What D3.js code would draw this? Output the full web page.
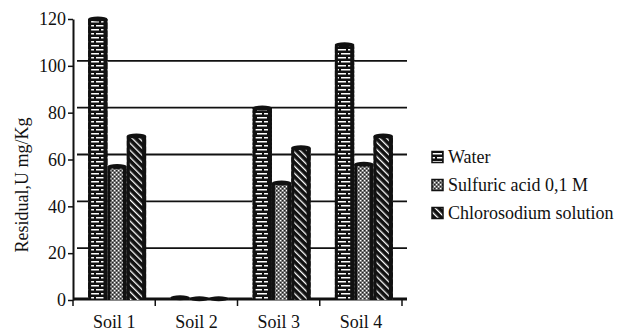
<!DOCTYPE html>
<html><head><meta charset="utf-8">
<script src="https://cdn.jsdelivr.net/npm/d3@7"></script>
<style>body{margin:0;background:#fff}svg{display:block}text{font-family:"Liberation Serif","Times New Roman",Times,"DejaVu Serif",serif;fill:#111}</style>
</head><body>
<svg id="c" width="622" height="330"></svg>
<script>
const soils = ["Soil 1","Soil 2","Soil 3","Soil 4"];
const series = ["Water","Sulfuric acid 0,1 M","Chlorosodium solution"];
const water = [120, 1, 82, 109];
const sulfuric = [57, 0.5, 50, 58];
const chloro = [70, 0.5, 65, 70];
const yTicks = [0,20,40,60,80,100,120];
const values = [water, sulfuric, chloro];

const svg = d3.select("#c");
const defs = svg.append("defs");
const ink = "#111";
const serif = '"Liberation Serif","Times New Roman",Times,serif';

// patterns
const p1 = defs.append("pattern").attr("id","pw").attr("patternUnits","userSpaceOnUse").attr("width",12).attr("height",8);
p1.append("rect").attr("width",12).attr("height",8).attr("fill",ink);
p1.append("rect").attr("x",0).attr("y",1).attr("width",10).attr("height",1.5).attr("fill","#fff");
p1.append("rect").attr("x",5).attr("y",5).attr("width",7).attr("height",1.5).attr("fill","#fff");
p1.append("rect").attr("x",0).attr("y",5).attr("width",3).attr("height",1.5).attr("fill","#fff");
const p2 = defs.append("pattern").attr("id","ps").attr("patternUnits","userSpaceOnUse").attr("width",4).attr("height",4);
p2.append("rect").attr("width",4).attr("height",4).attr("fill","#777");
p2.append("rect").attr("x",0).attr("y",0).attr("width",1.2).attr("height",1.2).attr("fill","#fff");
p2.append("rect").attr("x",2).attr("y",2).attr("width",1.2).attr("height",1.2).attr("fill","#fff");
p2.append("rect").attr("x",2).attr("y",0).attr("width",1.2).attr("height",1.2).attr("fill","#222");
p2.append("rect").attr("x",0).attr("y",2).attr("width",1.2).attr("height",1.2).attr("fill","#222");
const p3 = defs.append("pattern").attr("id","pc").attr("patternUnits","userSpaceOnUse").attr("width",5).attr("height",5).attr("patternTransform","rotate(-45)");
p3.append("rect").attr("width",5).attr("height",5).attr("fill",ink);
p3.append("rect").attr("x",0).attr("y",0).attr("width",1.3).attr("height",5).attr("fill","#fff");
const fills = ["url(#pw)","url(#ps)","url(#pc)"];

const x0 = d3.scaleBand().domain(soils).range([73,402]);
const groupW = 58;
const x1 = d3.scaleBand().domain(series).range([0,groupW]);
const y = d3.scaleLinear().domain([0,120]).range([300,19]);
const depthX = 4, depthY = -5;

// gridlines (back wall)
const grid = svg.append("g");
grid.selectAll("line").data(yTicks.filter(v=>v>0 && v<120)).join("line")
  .attr("x1",73+depthX).attr("x2",407)
  .attr("y1",d=>y(d)+depthY).attr("y2",d=>y(d)+depthY)
  .attr("stroke",ink).attr("stroke-width",1.8);

// y axis
const ya = svg.append("g").attr("transform","translate(73,0)")
  .call(d3.axisLeft(y).tickValues(yTicks).tickSize(5).tickPadding(2).tickSizeOuter(0));
ya.attr("font-family",null).attr("font-size",null);
ya.select(".domain").attr("stroke",ink).attr("stroke-width",2);
ya.selectAll(".tick line").attr("stroke",ink).attr("stroke-width",1.5);
ya.selectAll("text").style("font-size","18px").style("font-family",serif).attr("fill",ink);

// floor
svg.append("line").attr("x1",73).attr("x2",407).attr("y1",299).attr("y2",299).attr("stroke",ink).attr("stroke-width",3);

// x axis
const xa = svg.append("g").attr("transform","translate(0,300)")
  .call(d3.axisBottom(x0).tickSize(0).tickPadding(15));
xa.attr("font-family",null).attr("font-size",null);
xa.select(".domain").remove();
xa.selectAll("text").style("font-size","18px").style("font-family",serif).attr("fill",ink);
const bounds = soils.map(s=>x0(s)).concat([x0(soils[3])+x0.bandwidth()]);
svg.append("g").selectAll("line").data(bounds).join("line")
  .attr("x1",d=>d).attr("x2",d=>d).attr("y1",300).attr("y2",306)
  .attr("stroke",ink).attr("stroke-width",1.5);

// bars
const off = (x0.bandwidth()-groupW)/2 + 3;
const bw = x1.bandwidth();
soils.forEach((s,i)=>{
  series.forEach((ser,j)=>{
    const v = values[j][i];
    const bx = x0(s)+off+x1(ser);
    const top = y(v), h = y(0)-top;
    const g = svg.append("g");
    g.append("rect").attr("x",bx).attr("y",top).attr("width",bw).attr("height",h).attr("fill",fills[j]);
    g.append("rect").attr("x",bx).attr("y",top).attr("width",3).attr("height",h).attr("fill",ink);
    g.append("rect").attr("x",bx+bw-4).attr("y",top).attr("width",4).attr("height",h).attr("fill",ink);
    g.append("ellipse").attr("cx",bx+bw/2).attr("cy",top).attr("rx",bw/2).attr("ry",2.5).attr("fill",ink);
  });
});

// y label
svg.append("text").attr("transform","translate(28,185) rotate(-90)")
  .attr("text-anchor","middle").style("font-size","18px").style("font-family",serif).text("Residual,U mg/Kg");

// legend
const lg = svg.append("g");
series.forEach((ser,j)=>{
  const ly = 157 + j*28;
  lg.append("rect").attr("x",432).attr("y",ly-5.5).attr("width",11).attr("height",11).attr("fill",fills[j]).attr("stroke",ink).attr("stroke-width",1.5);
  lg.append("text").attr("x",448).attr("y",ly+6).style("font-size","18px").style("font-family",serif).text(ser);
});
</script>
</body></html>
